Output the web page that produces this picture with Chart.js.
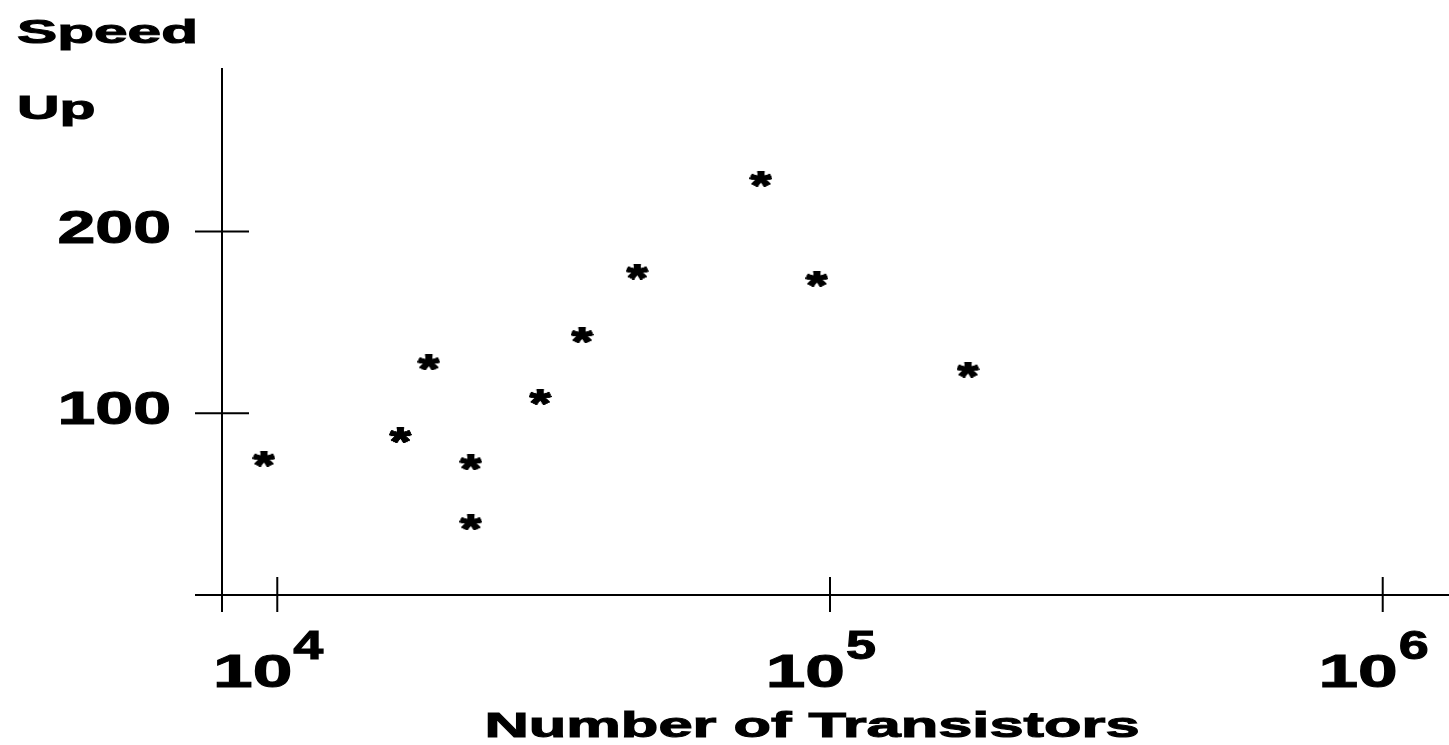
<!DOCTYPE html>
<html lang="en">
<head>
<meta charset="UTF-8">
<title>Speed Up vs Number of Transistors</title>
<script src="https://cdn.jsdelivr.net/npm/chart.js"></script>
<style>
    html, body { margin: 0; padding: 0; background: #fff; }
    canvas { display: block; }
</style>
</head>
<body>
<canvas id="speedChart" width="1449" height="745"></canvas>

<script>
// data
const transistors = [9460, 16700, 18800, 22400, 22400, 29900, 35600, 44800, 75000, 94700, 177700];
const speedUp     = [75,   88,    128,   73,    40,    109,   143,   178,   229,   174,   124];

const yTicks = [100, 200];
const xTicks = [1e4, 1e5, 1e6];
const xTickExp = ['4', '5', '6'];

const FONT = '"Liberation Sans", Arial, sans-serif';

// asterisk marker, heavy and stretched like the original glyph
function makeStar(w, h) {
    const big = document.createElement('canvas');
    big.width = 120;
    big.height = 120;
    const b = big.getContext('2d');
    b.font = 'bold 160px ' + FONT;
    b.fillStyle = '#000';
    b.strokeStyle = '#000';
    b.lineWidth = 7;
    b.lineJoin = 'round';
    const m = b.measureText('*');
    const pad = 6;
    const bx = pad + m.actualBoundingBoxLeft;
    const by = pad + m.actualBoundingBoxAscent;
    b.fillText('*', bx, by);
    b.strokeText('*', bx, by);
    const bw = m.actualBoundingBoxRight + m.actualBoundingBoxLeft + 2 * pad;
    const bh = m.actualBoundingBoxAscent + m.actualBoundingBoxDescent + 2 * pad;

    const c = document.createElement('canvas');
    c.width = w;
    c.height = h;
    c.getContext('2d').drawImage(big, 3, 3, bw - 6, bh - 6, 0, 0, w, h);
    return c;
}

function stretchText(ctx, s, x, y, size, sx, align) {
    ctx.save();
    ctx.translate(x, y);
    ctx.scale(sx, 1);
    ctx.font = 'bold ' + size + 'px ' + FONT;
    ctx.textAlign = align;
    ctx.textBaseline = 'alphabetic';
    ctx.fillStyle = '#000';
    ctx.strokeStyle = '#000';
    ctx.lineWidth = 1;
    ctx.fillText(s, 0, 0);
    ctx.strokeText(s, 0, 0);
    ctx.restore();
}

// axes, crossing tick marks and labels
const axesPlugin = {
    id: 'oldAxes',
    afterDraw(chart) {
        const ctx = chart.ctx;
        const xs = chart.scales.x;
        const ys = chart.scales.y;
        const x0 = xs.left;
        const y0 = ys.getPixelForValue(0);

        ctx.save();
        ctx.strokeStyle = '#000';
        ctx.lineWidth = 2;
        ctx.beginPath();
        // y axis
        ctx.moveTo(x0, ys.top);
        ctx.lineTo(x0, y0 + 17);
        // x axis
        ctx.moveTo(x0 - 27, y0);
        ctx.lineTo(xs.right, y0);
        yTicks.forEach(v => {
            const py = ys.getPixelForValue(v);
            ctx.moveTo(x0 - 27, py);
            ctx.lineTo(x0 + 27, py);
        });
        xTicks.forEach(v => {
            const px = xs.getPixelForValue(v);
            ctx.moveTo(px, y0 - 18);
            ctx.lineTo(px, y0 + 17);
        });
        ctx.stroke();
        ctx.restore();

        yTicks.forEach(v => {
            const py = ys.getPixelForValue(v);
            stretchText(ctx, String(v), 171, py + 11, 46, 1.48, 'right');
        });
        xTicks.forEach((v, i) => {
            const px = xs.getPixelForValue(v);
            stretchText(ctx, '10', px + 15, y0 + 92, 46, 1.55, 'right');
            stretchText(ctx, xTickExp[i], px + 16, y0 + 64, 40, 1.35, 'left');
        });

        stretchText(ctx, 'Speed', 17, 43, 33.5, 1.8, 'left');
        stretchText(ctx, 'Up', 17, 119, 33.5, 1.76, 'left');
        stretchText(ctx, 'Number of Transistors', 812, 737, 34.5, 1.78, 'center');
    }
};

const star = makeStar(23, 16);

new Chart(document.getElementById('speedChart'), {
    type: 'scatter',
    data: {
        datasets: [{
            label: 'Speed Up',
            data: transistors.map((t, i) => ({ x: t, y: speedUp[i] })),
            pointStyle: star,
            pointRadius: 11,
            pointHoverRadius: 11
        }]
    },
    options: {
        responsive: false,
        animation: false,
        events: [],
        layout: {
            autoPadding: false,
            padding: { left: 222, top: 68, right: 0, bottom: 150 }
        },
        scales: {
            x: {
                type: 'logarithmic',
                min: 7943,
                max: 1318000,
                bounds: 'data',
                display: false
            },
            y: {
                type: 'linear',
                min: 0,
                max: 290,
                bounds: 'data',
                display: false
            }
        },
        plugins: {
            legend: { display: false },
            tooltip: { enabled: false }
        }
    },
    plugins: [axesPlugin]
});
</script>
</body>
</html>
